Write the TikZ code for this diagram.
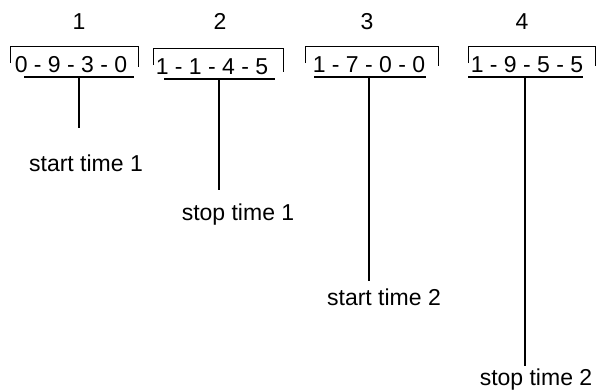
\documentclass[tikz,border=0pt]{standalone}
\usepackage{fontspec}
\setmainfont{Liberation Sans}
\begin{document}
\begin{tikzpicture}[x=1pt,y=-1pt,
  txt/.style={inner sep=0pt,anchor=base,font=\fontsize{23}{23}\selectfont},
  bracketline/.style={line width=0.9pt},
  heavy/.style={line width=2.6pt},
  stem/.style={line width=2.4pt}]
\useasboundingbox (0,0) rectangle (599,391);
% column numbers
\node[txt] (n1) at (79,29) {1};
\node[txt] (n2) at (220,29) {2};
\node[txt] (n3) at (367,29) {3};
\node[txt] (n4) at (522,29) {4};
% digit strings
\node[txt] (d1) at (71,72) {0 - 9 - 3 - 0};
\node[txt] (d2) at (212,74) {1 - 1 - 4 - 5};
\node[txt] (d3) at (369,72) {1 - 7 - 0 - 0};
\node[txt] (d4) at (527,72) {1 - 9 - 5 - 5};
% brackets
\draw[bracketline] (10,63) -- (10,46) -- (138,46) -- (138,67);
\draw[bracketline] (153,65) -- (153,48) -- (283,48) -- (283,72);
\draw[bracketline] (305,63) -- (305,46) -- (438,46) -- (438,66);
\draw[bracketline] (468,63) -- (468,46) -- (595,46) -- (595,66);
% underlines
\draw[heavy] (24,77) -- (134,77);
\draw[heavy] (164,79) -- (275,79);
\draw[heavy] (314,77) -- (426,77);
\draw[heavy] (468,77) -- (583,77);
\coordinate (u1) at (79,77);
\coordinate (u2) at (219,79);
\coordinate (u3) at (369,77);
\coordinate (u4) at (525,77);
\coordinate (e1) at (79,128);
\coordinate (e2) at (219,190);
\coordinate (e3) at (369,281);
\coordinate (e4) at (525,366);
% labels
\node[txt] (l1) at (86,171) {start time 1};
\node[txt] (l2) at (238,220) {stop time 1};
\node[txt] (l3) at (384,305) {start time 2};
\node[txt] (l4) at (536,385) {stop time 2};
% stems
\draw[stem] (u1) -- (e1);
\draw[stem] (u2) -- (e2);
\draw[stem] (u3) -- (e3);
\draw[stem] (u4) -- (e4);
\end{tikzpicture}
\end{document}
